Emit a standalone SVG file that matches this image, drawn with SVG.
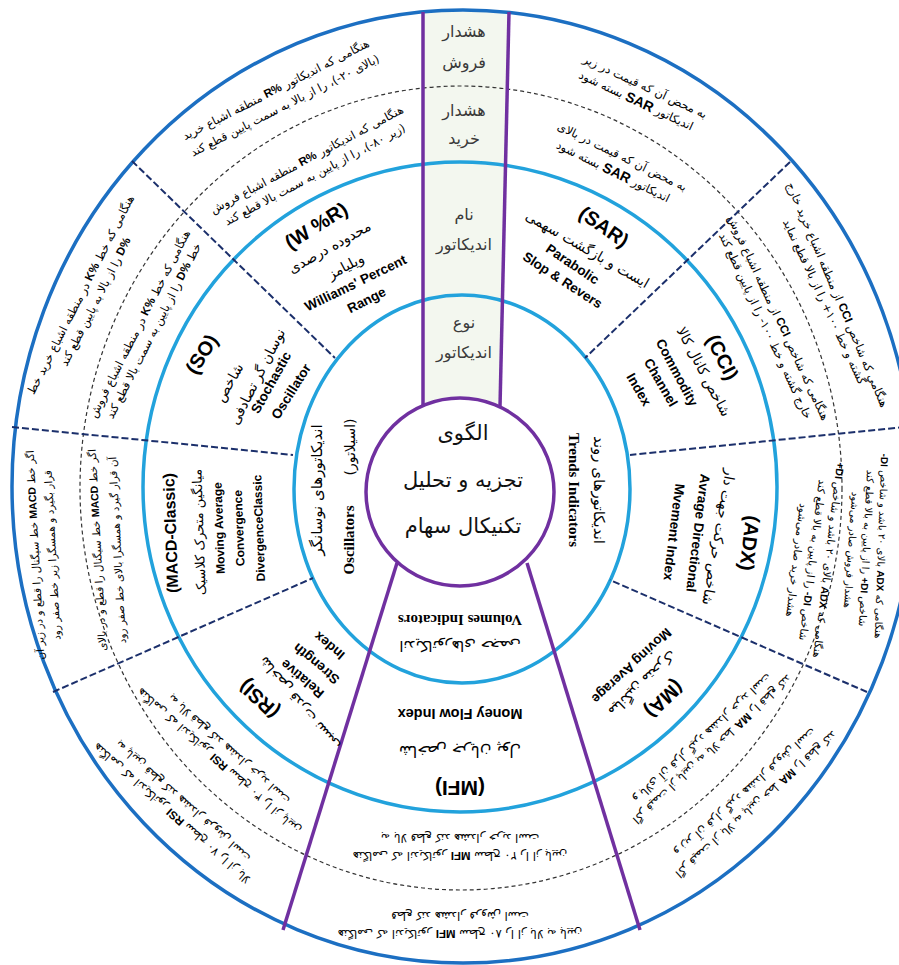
<svg xmlns="http://www.w3.org/2000/svg" width="899" height="965" viewBox="0 0 899 965">
<style>
text{dominant-baseline:middle;text-anchor:middle}
.fa{font-family:"DejaVu Sans","Noto Sans",sans-serif;direction:rtl;fill:#000}
.s{font-size:11.5px}
.t{font-size:10.5px}
.u{font-size:10px}
.n{font-size:14px}
.L{font-family:"Liberation Sans",Arial,sans-serif;font-weight:bold}
.en{font-family:"Liberation Sans",Arial,sans-serif;font-weight:bold;fill:#000}
.e{font-size:13.5px}
.b{font-size:20px}
.sr{font-family:"Liberation Serif","Times New Roman",serif;font-weight:bold;font-size:15px;fill:#000}
.st{font-family:"DejaVu Sans",sans-serif;direction:rtl;font-size:16px;fill:#3a3a3a}
.ct{font-family:"DejaVu Sans",sans-serif;direction:rtl;font-size:21px;fill:#111}
.ring{fill:none;stroke:#22a2dc;stroke-width:3.5}
.div{stroke:#1b2f6b;stroke-width:2;stroke-dasharray:7 3;fill:none}
.pur{stroke:#7030a0;stroke-width:3.5;fill:none}
</style>
<rect width="899" height="965" fill="#fff"/>
<g id="rings">
<path d="M423,12 L509,12 L500,407 A94,94 0 0 0 423,406 Z" fill="#f3f7ef"/>
<ellipse cx="463" cy="486.5" rx="451" ry="476.5" fill="none" stroke="#1c6fc2" stroke-width="3.5"/>
<ellipse cx="461" cy="488" rx="381" ry="402" fill="none" stroke="#333" stroke-width="1.2" stroke-dasharray="4 3"/>
<ellipse class="ring" cx="460" cy="487" rx="317" ry="325"/>
<ellipse class="ring" cx="462" cy="489" rx="168" ry="194"/>
</g>
<g id="connectors">
<line class="div" x1="132" y1="161" x2="335" y2="358"/>
<line class="div" x1="790" y1="162" x2="585" y2="358"/>
<line class="div" x1="12" y1="427" x2="293" y2="455"/>
<line class="div" x1="905" y1="427" x2="630" y2="455"/>
<line class="div" x1="53" y1="692" x2="313" y2="578"/>
<line class="div" x1="867" y1="692" x2="610" y2="580"/>
<line class="pur" x1="423" y1="12" x2="423" y2="406"/>
<line class="pur" x1="509" y1="12" x2="500" y2="407"/>
<line class="pur" x1="397" y1="563" x2="283" y2="930"/>
<line class="pur" x1="527" y1="563" x2="640" y2="930"/>
</g>
<g id="center">
<circle cx="460" cy="492" r="94" fill="#fff" stroke="#7030a0" stroke-width="3.5"/>
<text class="ct" x="463" y="434">الگوی</text>
<text class="ct" x="463" y="481">تجزیه و تحلیل</text>
<text class="ct" x="463" y="527">تکنیکال سهام</text>
</g>
<g id="strip">
<text class="st" x="464" y="32">هشدار</text>
<text class="st" x="464" y="63">فروش</text>
<text class="st" x="464" y="111">هشدار</text>
<text class="st" x="464" y="139">خرید</text>
<text class="st" x="464" y="215">نام</text>
<text class="st" x="464" y="245">اندیکاتور</text>
<text class="st" x="464" y="323">نوع</text>
<text class="st" x="464" y="353">اندیکاتور</text>
</g>
<g id="types">
<text class="fa" font-size="15" transform="translate(317 490) rotate(-90)">اندیکاتورهای نوسانگر</text>
<text class="fa" font-size="14" transform="translate(351 447) rotate(-90)">(اسیلاتور)</text>
<text class="sr" transform="translate(351 540) rotate(-90)">Oscillators</text>
<text class="fa" font-size="15" transform="translate(598 490) rotate(90)">اندیکاتورهای روند</text>
<text class="sr" transform="translate(572 490) rotate(90)">Trends Indicators</text>
<text class="sr" transform="translate(460 618) rotate(180)">Volumes Indicators</text>
<text class="fa" font-size="15" transform="translate(460 645) rotate(180)">اندیکاتورهای حجمی</text>
</g>
<g id="wr">
<text class="en b" transform="translate(317 227) rotate(-32)">(W %R)</text>
<text class="fa n" transform="translate(330 248) rotate(-29)">محدوده درصدی</text>
<text class="fa n" transform="translate(346 267) rotate(-28)">ویلیامز</text>
<text class="en e" transform="translate(356 284) rotate(-26)">Williams' Percent</text>
<text class="en e" transform="translate(367 301) rotate(-27)">Range</text>
<text class="fa s" transform="translate(276 90) rotate(-27)">هنگامی که اندیکاتور <tspan class="L">%R</tspan> منطقه اشباع خرید</text>
<text class="fa s" transform="translate(285 106) rotate(-27)">(بالای ۲۰-)، را از بالا به سمت پایین قطع کند</text>
<text class="fa s" transform="translate(307 160) rotate(-28)">هنگامی که اندیکاتور <tspan class="L">%R</tspan> منطقه اشباع فروش</text>
<text class="fa s" transform="translate(315 175) rotate(-28)">(زیر ۸۰-)، را از پایین به سمت بالا قطع کند</text>
</g>
<g id="sar">
<text class="en b" transform="translate(603 228) rotate(35)">(SAR)</text>
<text class="fa n" transform="translate(587 250) rotate(30)">ایست و بازگشت سهمی</text>
<text class="en e" transform="translate(572 265) rotate(34)">Parabolic</text>
<text class="en e" transform="translate(562 281) rotate(33)">Slop &amp; Revers</text>
<text class="fa s" transform="translate(645 87) rotate(25)">به محض آن که قیمت در زیر</text>
<text class="fa s" transform="translate(636 101) rotate(25)">اندیکاتور <tspan class="L" font-size="14">SAR</tspan> بسته شود</text>
<text class="fa s" transform="translate(622 157) rotate(26)">به محض آن که قیمت در بالای</text>
<text class="fa s" transform="translate(613 172) rotate(26)">اندیکاتور <tspan class="L" font-size="14">SAR</tspan> بسته شود</text>
</g>
<g id="cci">
<text class="en b" transform="translate(721 358) rotate(63)">(CCI)</text>
<text class="fa n" transform="translate(703 372) rotate(62)">شاخص کانال کالا</text>
<text class="en e" transform="translate(676 373) rotate(62)">Commodity</text>
<text class="en e" transform="translate(660 383) rotate(60)">Channel</text>
<text class="en e" transform="translate(638 390) rotate(60)">Index</text>
<text class="fa s" transform="translate(837 295) rotate(67)">هنگامی که شاخص <tspan class="L">CCI</tspan> از منطقه اشباع خرید خارج</text>
<text class="fa s" transform="translate(824 302) rotate(65)">گشته و خط ۱۰۰+ را از بالا قطع نماید</text>
<text class="fa s" transform="translate(778 318) rotate(65)">هنگامی که شاخص <tspan class="L">CCI</tspan> از منطقه اشباع فروش</text>
<text class="fa s" transform="translate(765 326) rotate(65)">خارج گشته و خط ۱۰۰- را از پایین قطع کند</text>
</g>
<g id="adx">
<text class="en b" transform="translate(748 543) rotate(97)">(ADX)</text>
<text class="fa n" transform="translate(718 537) rotate(100)">شاخص حرکت جهت دار</text>
<text class="en e" transform="translate(697 533) rotate(97)">Avrage Directional</text>
<text class="en e" transform="translate(673 532) rotate(97)">Mvement Index</text>
<text class="fa u" transform="translate(881 546) rotate(92)">هنگامی که <tspan class="L">ADX</tspan> بالای ۲۰ باشد و شاخص <tspan class="L">DI-</tspan></text>
<text class="fa u" transform="translate(866 548) rotate(93)">شاخص <tspan class="L">DI+</tspan> را از پایین به بالا قطع کند</text>
<text class="fa u" transform="translate(851 550) rotate(94)">هشدار فروش صادر می‌شود</text>
<text class="fa t" transform="translate(828 560) rotate(97)">هنگامی که <tspan class="L">ADX</tspan> بالای ۲۰ باشد و شاخص <tspan class="L">DI+</tspan></text>
<text class="fa t" transform="translate(812 560) rotate(97)">شاخص <tspan class="L">DI-</tspan> را از پایین به بالا قطع کند</text>
<text class="fa t" transform="translate(796 560) rotate(97)">هشدار خرید صادر می‌شود</text>
</g>
<g id="ma">
<text class="en b" transform="translate(663 698) rotate(136)">(MA)</text>
<text class="fa n" transform="translate(642 683) rotate(136)">میانگین متحرک</text>
<text class="en e" transform="translate(631 665) rotate(137)">Moving Average</text>
<text class="fa s" transform="translate(756 804) rotate(138)">اگر قیمت از بالا به پایین خط <tspan class="L">MA</tspan> را قطع کند</text>
<text class="fa s" transform="translate(745 792) rotate(138)">و زیر آن قرار گیرد هشدار فروش است</text>
<text class="fa s" transform="translate(712 749) rotate(137)">اگر قیمت از پایین به بالا خط <tspan class="L">MA</tspan> را قطع کند</text>
<text class="fa s" transform="translate(702 738) rotate(137)">و بالای آن قرار گیرد هشدار خرید است</text>
</g>
<g id="mfi">
<text class="en" font-size="14.5" transform="translate(460 713) rotate(180)">Money Flow Index</text>
<text class="fa" font-size="16" transform="translate(460 750) rotate(180)">شاخص جریان پول</text>
<text class="en" font-size="21" transform="translate(460 787) rotate(180)">(MFI)</text>
<text class="fa s" transform="translate(460 933) rotate(180)">هنگامی که اندیکاتور <tspan class="L">MFI</tspan> سطح ۸۰ را از بالا به پایین</text>
<text class="fa s" transform="translate(460 915) rotate(180)">قطع کند هشدار فروش است</text>
<text class="fa s" transform="translate(460 855) rotate(180)">هنگامی که اندیکاتور <tspan class="L">MFI</tspan> سطح ۲۰ را از پایین</text>
<text class="fa s" transform="translate(460 837) rotate(180)">به بالا قطع کند هشدار خرید است</text>
</g>
<g id="rsi">
<text class="en b" transform="translate(260 698) rotate(-137)">(RSI)</text>
<text class="fa n" transform="translate(300 703) rotate(-130)">شاخص قدرت نسبی</text>
<text class="en e" transform="translate(303 678) rotate(-140)">Relative</text>
<text class="en e" transform="translate(317 663) rotate(-140)">Strength</text>
<text class="en e" transform="translate(330 645) rotate(-140)">Index</text>
<text class="fa s" transform="translate(172 813) rotate(-138.5)">هنگامی که اندیکاتور <tspan class="L">RSI</tspan> سطح ۷۰ را از بالا</text>
<text class="fa s" transform="translate(183 801) rotate(-138.5)">به پایین قطع کند هشدار فروش است</text>
<text class="fa s" transform="translate(219 761) rotate(-138.5)">هنگامی که اندیکاتور <tspan class="L">RSI</tspan> سطح ۳۰ را از پایین</text>
<text class="fa s" transform="translate(229 749) rotate(-138.5)">به بالا قطع کند هشدار خرید است</text>
</g>
<g id="macd">
<text class="en" font-size="16" transform="translate(172 533) rotate(-92)">(MACD-Classic)</text>
<text class="fa" font-size="13" transform="translate(200 532) rotate(-92)">میانگین متحرک کلاسیک</text>
<text class="en" font-size="12" transform="translate(220 528) rotate(-92)">Moving Average</text>
<text class="en" font-size="12" transform="translate(240 528) rotate(-92)">Convergence</text>
<text class="en" font-size="12" transform="translate(260 528) rotate(-92)">DivergenceClassic</text>
<text class="fa t" transform="translate(36 555) rotate(-93)">اگر خط <tspan class="L">MACD</tspan> خط سیگنال را قطع و در زیر آن</text>
<text class="fa t" transform="translate(53 555) rotate(-93)">قرار بگیرد و همسگرا زیر خط صفر رود</text>
<text class="fa t" transform="translate(98 550) rotate(-93)">اگر خط <tspan class="L">MACD</tspan> خط سیگنال را قطع و در بالای</text>
<text class="fa t" transform="translate(118 550) rotate(-93)">آن قرار گیرد و همسگرا بالای خط صفر رود</text>
</g>
<g id="so">
<text class="en b" transform="translate(203 355) rotate(-58)">(SO)</text>
<text class="fa n" transform="translate(230 383) rotate(-60)">شاخص</text>
<text class="fa n" transform="translate(258 377) rotate(-63)">نوسان گر تصادفی</text>
<text class="en e" transform="translate(272 383) rotate(-61)">Stochastic</text>
<text class="en e" transform="translate(292 392) rotate(-58)">Oscillator</text>
<text class="fa s" transform="translate(81 295) rotate(-63)">هنگامی که خط <tspan class="L">%K</tspan> در منطقه اشباع خرید خط</text>
<text class="fa s" transform="translate(96 302) rotate(-63)"><tspan class="L">%D</tspan> را از بالا به پایین قطع کند</text>
<text class="fa s" transform="translate(140 324) rotate(-63)">هنگامی که خط <tspan class="L">%K</tspan> در منطقه اشباع فروش</text>
<text class="fa s" transform="translate(154 331) rotate(-63)">خط <tspan class="L">%D</tspan> را از پایین به سمت بالا قطع کند</text>
</g>
</svg>
